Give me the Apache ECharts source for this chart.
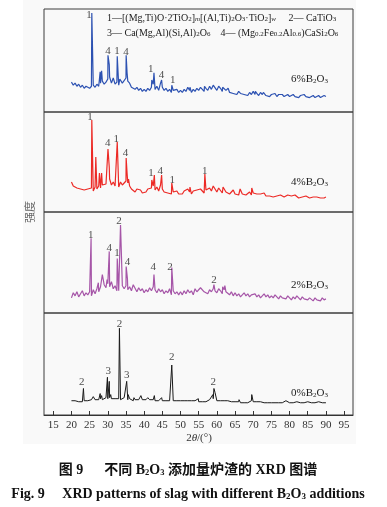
<!DOCTYPE html>
<html><head><meta charset="utf-8">
<script src="https://cdn.jsdelivr.net/npm/echarts@6/dist/echarts.min.js"></script>
<style>html,body{margin:0;padding:0;background:#fff}#c{width:387px;height:507px}</style>
</head><body><div id="c"></div>
<script>
// ---- data ----
const xTicks = [15,20,25,30,35,40,45,50,55,60,65,70,75,80,85,90,95];
const baseStart = 20, baseStep = 0.5;

// 6% B2O3 (blue) – background every 0.5° from 20 to 90
const base6 = [29,26,28,25,27,24,26,23,25,24, 23,25,26,24,27,25,28,30,27,29, 32,34,28,30,27,29,26,31,28,27,
  33,30,28,24,25,22,24,21,23,20, 22,20,23,21,24,27,22,25,21,28, 24,21,23,20,22,19,21,20,22,19,
  21,19,22,20,24,21,19,22,20,23, 21,24,22,20,23,21,25,22,26,24, 21,25,23,20,24,21,22,19,20,18,
  19,17,20,18,19,17,18,16,19,17, 20,17,18,16,19,17,18,16,17,15, 17,16,18,15,17,16,17,15,16,17,
  15,16,17,15,16,14,16,15,17,15, 16,14,15,16,14,15,16,14,15,16, 15];
const peaks6 = [[25.6,96],[27.9,39],[28.3,40],[30.05,55],[30.4,46],[31.5,33],[32.6,54],[33.3,32],[35.05,55],[35.3,38],
  [42.1,31],[42.7,38],[44.8,31],[47.6,26],[52.6,24],[56.6,25],[59.5,27],[61.6,24],[63.1,23],[70.6,20],[72.8,19]];
const labels6 = [[24.8,94,'1'],[30.05,59.5,'4'],[32.5,59.5,'1'],[35.0,58.5,'4'],[41.8,41.4,'1'],[44.8,36,'4'],[47.9,30.5,'1']];

// 4% B2O3 (red)
const base4 = [30,26,28,24,26,23,25,22,24,23, 22,24,21,25,23,26,24,27,25,28, 30,33,27,29,26,28,25,30,27,26,
  31,29,26,23,22,20,23,21,22,19, 21,20,23,21,24,26,22,25,21,27, 23,20,22,19,21,18,20,19,21,18,
  20,18,21,19,23,20,18,21,19,22, 20,23,21,19,22,20,24,21,25,23, 20,24,22,19,23,20,21,18,20,22,
  18,20,17,21,18,19,17,18,20,17, 19,17,18,16,18,17,19,16,17,16, 17,15,17,16,15,17,16,15,16,17,
  15,16,15,17,15,14,16,15,14,16, 15,14,16,15,14,15,16,14,15,14, 15];
const peaks4 = [[25.6,92],[26.7,55],[27.7,39],[28.3,39],[30.05,63],[30.4,45],[31.5,30],[32.6,70],[35.05,54],[35.3,39],[35.7,33],
  [42.1,32],[42.8,37],[44.8,37],[47.6,29],[52.6,25],[56.7,38],[59.0,26],[60.9,24],[61.7,25],[66.4,23],[69.6,24]];
const labels4 = [[25.1,94.5,'1'],[30.0,69,'4'],[32.3,72.7,'1'],[34.9,58.7,'4'],[41.9,38.7,'1'],[44.4,41.3,'4'],[47.7,32,'1'],[56.7,41.3,'1']];

// 2% B2O3 (purple)
const base2 = [15,20,17,21,16,19,22,17,20,18, 21,17,23,19,24,21,26,22,28,25, 29,26,31,24,27,22,25,22,28,24,
  27,23,26,22,28,24,21,25,22,24, 20,23,21,25,22,26,23,20,24,21, 23,19,22,20,24,18,22,19,21,18,
  21,18,22,19,23,20,22,18,24,21, 23,20,24,21,22,19,23,21,24,22, 20,24,22,19,23,21,20,18,21,17,
  20,17,19,16,18,20,17,19,16,18, 17,19,16,18,15,17,19,16,18,15, 17,15,18,16,14,17,15,16,14,17,
  15,13,16,14,17,15,13,16,14,15, 13,15,14,12,15,13,14,12,15,13, 14];
const peaks2 = [[25.4,74],[27.4,30],[28.5,38],[29.8,33],[30.4,61],[31.3,30],[32.6,54],[33.0,22],[33.5,87],[34.0,27],[35.05,46],[35.4,34],
  [37.5,28],[42.7,38],[47.6,45],[55.5,25],[59.2,28],[61.6,26],[62.2,27],[69.6,19]];
const labels2 = [[25.3,77.2,'1'],[30.4,64.7,'4'],[32.5,59,'1'],[33.1,91,'2'],[35.4,50.8,'4'],[42.5,45.8,'4'],[47.1,45.8,'2'],[59.2,32.7,'2']];

// 0% B2O3 (black)
const base0 = [14,13,14,13,13,14,13,14,13,14, 14,15,14,15,16,15,16,15,16,17, 16,17,16,15,16,15,16,15,16,17,
  16,15,16,15,14,15,14,15,16,15, 14,15,14,15,16,15,14,15,14,15, 14,15,14,13,14,13,14,13,14,13,
  14,13,14,13,14,13,14,13,14,13, 13,14,13,14,13,14,15,14,16,15, 14,13,14,13,14,13,14,13,13,14,
  13,12,13,12,13,12,13,12,13,14, 13,12,13,12,13,12,12,13,12,13, 12,13,12,13,12,13,12,13,14,13,
  12,13,12,12,13,12,12,13,12,12, 13,12,12,13,12,12,13,12,12,13, 12];
const peaks0 = [[23.3,26],[26.0,18],[27.9,21],[28.3,19],[29.9,37],[30.4,33],[30.8,20],[33.2,85],[35.2,33],[35.6,20],[37.2,17],
  [39.1,19],[41.0,17],[42.8,19],[44.8,17],[47.6,49],[52.5,15],[54.9,16],[58.9,20],[59.2,26],[59.5,22],[63.2,15],[66.1,15],[69.6,20],[79.4,15]];
const labels0 = [[22.8,32,'2'],[30.1,43,'3'],[33.2,89,'2'],[35.2,39,'3'],[47.6,57,'2'],[59.0,32,'2']];

const sampleNames = ['6%B{s|2}O{s|3}','4%B{s|2}O{s|3}','2%B{s|2}O{s|3}','0%B{s|2}O{s|3}'];

// ---- build ----
function merge(base, peaks){
  const m = new Map();
  base.forEach((v,i)=>{ const x = +(baseStart + i*baseStep).toFixed(2); m.set(x.toFixed(2), [x, v]); });
  peaks.forEach(p=>{ m.set(p[0].toFixed(2), [p[0], p[1]]); });
  return Array.from(m.values()).sort((a,b)=>a[0]-b[0]);
}
const panels = [
  {base: base6, peaks: peaks6, labels: labels6, color: '#2d52b2', width: 1.2, top: 9, height: 103, name: sampleNames[0], ny: 79},
  {base: base4, peaks: peaks4, labels: labels4, color: '#ec2a26', width: 1.2, top: 112, height: 100, name: sampleNames[1], ny: 182},
  {base: base2, peaks: peaks2, labels: labels2, color: '#a656a8', width: 1.2, top: 212, height: 101, name: sampleNames[2], ny: 285},
  {base: base0, peaks: peaks0, labels: labels0, color: '#1a1a1a', width: 1, top: 313, height: 102, name: sampleNames[3], ny: 393}
];
const SERIF = '"Liberation Serif","Times New Roman",serif';
const xMin = 12.45, xMax = 97.45;
const grid = [], xAxis = [], yAxis = [], series = [];
panels.forEach((p, i)=>{
  grid.push({left: 44, width: 309, top: p.top, height: p.height, show: true, borderColor: '#3c3c3c', borderWidth: 1, backgroundColor: 'transparent'});
  const last = i === panels.length - 1;
  xAxis.push({
    type: 'value', gridIndex: i, min: xMin, max: xMax, show: last,
    axisLine: {show: last, lineStyle: {color: '#333', width: 1}},
    axisTick: {show: last, inside: true, length: 4, customValues: xTicks, lineStyle: {color: '#333'}},
    axisLabel: {show: last, customValues: xTicks, margin: 5, fontSize: 11, fontFamily: SERIF, color: '#333'},
    splitLine: {show: false}
  });
  yAxis.push({type: 'value', gridIndex: i, min: 0, max: 100, show: false, splitLine: {show: false}});
  series.push({
    type: 'line', xAxisIndex: i, yAxisIndex: i, data: merge(p.base, p.peaks),
    showSymbol: false, symbol: 'none', lineStyle: {color: p.color, width: p.width}, silent: true, z: 2
  });
  series.push({
    type: 'scatter', xAxisIndex: i, yAxisIndex: i, symbolSize: 0, silent: true, z: 3,
    data: p.labels.map(l=>({value: [l[0], l[1]], name: l[2]})),
    label: {show: true, position: 'inside', formatter: '{b}', fontSize: 11, fontFamily: SERIF, color: '#222'}
  });
});

const subRich = {
  s: {fontSize: 7, fontFamily: SERIF, color: '#222', lineHeight: 10, verticalAlign: 'bottom'},
  si: {fontSize: 7, fontFamily: SERIF, fontStyle: 'italic', color: '#222', lineHeight: 10, verticalAlign: 'bottom'}
};
const graphic = [
  {type: 'rect', z: -10, shape: {x: 23, y: 0, width: 333, height: 444}, style: {fill: '#f9f9f9'}},
  {type: 'text', left: 107, top: 13, z: 10, style: {
    text: '1—[(Mg,Ti)O·2TiO{s|2}]{si|m}[(Al,Ti){s|2}O{s|3}·TiO{s|2}]{si|w}     2— CaTiO{s|3}',
    font: '10px ' + SERIF, fill: '#222', rich: subRich}},
  {type: 'text', left: 107, top: 28, z: 10, style: {
    text: '3— Ca(Mg,Al)(Si,Al){s|2}O{s|6}    4— (Mg{s|0.2}Fe{s|0.2}Al{s|0.6})CaSi{s|2}O{s|6}',
    font: '10px ' + SERIF, fill: '#222', rich: subRich}},
  {type: 'text', x: 30, y: 212, rotation: Math.PI/2, z: 10, style: {
    text: '强度', font: '11px "Noto Sans CJK SC"', fill: '#666', align: 'center', verticalAlign: 'middle'}},
  {type: 'text', x: 199, y: 438, z: 10, style: {
    text: '2{i|θ}/(°)', font: '11px ' + SERIF, fill: '#333', align: 'center', verticalAlign: 'middle',
    rich: {i: {fontStyle: 'italic', fontSize: 11, fontFamily: SERIF, fill: '#333'}}}},
  {type: 'text', x: 188, y: 470, z: 10, style: {
    text: '图 9　  不同 B{b|2}O{b|3} 添加量炉渣的 XRD 图谱', font: 'bold 14px ' + SERIF + ',"Noto Sans CJK SC"', fill: '#111',
    align: 'center', verticalAlign: 'middle',
    rich: {b: {fontSize: 8.5, fontWeight: 'bold', fontFamily: SERIF, fill: '#111', verticalAlign: 'bottom', lineHeight: 13}}}},
  {type: 'text', x: 188, y: 494, z: 10, style: {
    text: 'Fig. 9     XRD patterns of slag with different B{b|2}O{b|3} additions', font: 'bold 14px ' + SERIF, fill: '#111',
    align: 'center', verticalAlign: 'middle',
    rich: {b: {fontSize: 9, fontWeight: 'bold', fontFamily: SERIF, fill: '#111', verticalAlign: 'bottom', lineHeight: 13}}}}
];
panels.forEach(p=>{
  graphic.push({type: 'text', x: 328, y: p.ny, z: 10, style: {
    text: p.name, font: '11px ' + SERIF, fill: '#222', align: 'right', verticalAlign: 'middle', rich: subRich}});
});

const chart = echarts.init(document.getElementById('c'), null, {renderer: 'canvas'});
chart.setOption({animation: false, backgroundColor: '#fff', grid, xAxis, yAxis, series, graphic});
</script></body></html>
